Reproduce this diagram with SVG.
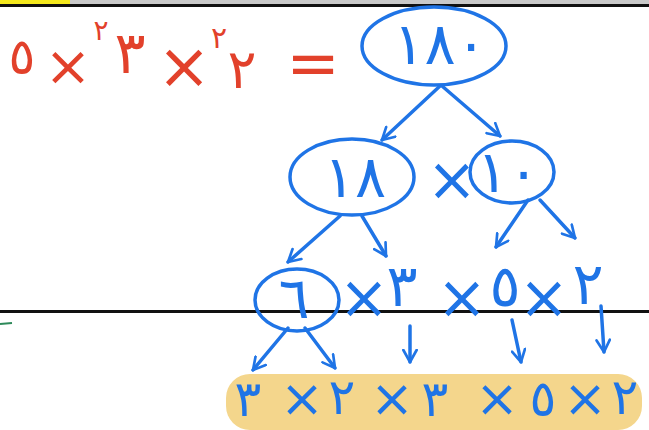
<svg xmlns="http://www.w3.org/2000/svg" width="649" height="430" viewBox="0 0 649 430">
<defs>
<marker id="ah" viewBox="0 0 12 12" refX="10" refY="6" markerWidth="16" markerHeight="16" markerUnits="userSpaceOnUse" orient="auto">
<path d="M1,1 L10,6 L1,11" fill="none" stroke="#1f74e6" stroke-width="2" stroke-linecap="round" stroke-linejoin="round"/>
</marker>
<style>
.r{fill:#e2412b;font-family:"DejaVu Sans",sans-serif;font-size:58px;text-anchor:middle}
.rx{fill:#e2412b;font-family:"DejaVu Sans",sans-serif;font-size:64px;text-anchor:middle}
.rs{fill:#e2412b;font-family:"DejaVu Sans",sans-serif;font-size:30px;text-anchor:middle}
.b{fill:#1f74e6;font-family:"DejaVu Sans",sans-serif;font-size:58px;text-anchor:middle}
.bx{fill:#1f74e6;font-family:"DejaVu Sans",sans-serif;font-size:60px;text-anchor:middle}
.bb{fill:#1f74e6;font-family:"DejaVu Sans",sans-serif;font-size:50px;text-anchor:middle}
.bbx{fill:#1f74e6;font-family:"DejaVu Sans",sans-serif;font-size:52px;text-anchor:middle}
.ring{fill:none;stroke:#1f74e6;stroke-width:3.5}
.c{fill:none;stroke:#1f74e6;stroke-width:3.5;stroke-linecap:round;marker-end:url(#ah)}
</style>
</defs>
<rect width="649" height="430" fill="#ffffff"/>
<rect x="0" y="0" width="649" height="4" fill="#c9c9c9"/>
<rect x="0" y="0" width="70" height="4" fill="#f4e81c"/>
<rect x="0" y="4" width="649" height="3" fill="#111111"/>
<rect x="0" y="310" width="649" height="3" fill="#111111"/>
<path d="M0,324 L12,323" stroke="#2e8a5a" stroke-width="2"/>

<g id="equation">
<text class="r" x="22" y="74" style="font-size:50px">٥</text>
<text class="rx" x="68" y="85" style="font-size:56px">×</text>
<text class="rs" x="101" y="40" style="font-size:28px">٢</text>
<text class="r" x="130" y="73">٣</text>
<text class="rx" x="184" y="88">×</text>
<text class="rs" x="219" y="48">٢</text>
<text class="r" x="242" y="88" style="font-size:54px">٢</text>
<text class="rx" x="313" y="85">=</text>
</g>

<rect id="highlight" x="226" y="374" width="416" height="56" rx="24" fill="#f4d68c"/>

<g id="n180">
<ellipse class="ring" cx="434" cy="46" rx="72" ry="39"/>
<text class="b" x="440" y="64">١٨٠</text>
</g>
<g id="n18">
<ellipse class="ring" cx="352" cy="177" rx="62" ry="38"/>
<text class="b" x="355" y="197">١٨</text>
</g>
<text class="bx" x="452" y="200">×</text>
<g id="n10">
<ellipse class="ring" cx="512" cy="172" rx="42" ry="31"/>
<text class="b" x="508" y="192">١٠</text>
</g>
<g id="n6">
<ellipse class="ring" cx="297" cy="300" rx="42" ry="31"/>
<text class="b" x="294" y="318">٦</text>
</g>
<g id="row3">
<text class="bx" x="364" y="318">×</text>
<text class="b" x="402" y="306">٣</text>
<text class="bx" x="462" y="318">×</text>
<text class="b" x="505" y="306">٥</text>
<text class="bx" x="544" y="318">×</text>
<text class="b" x="588" y="304">٢</text>
</g>
<g id="result">
<text class="bb" x="248" y="416">٣</text>
<text class="bbx" x="302" y="416">×</text>
<text class="bb" x="342" y="414">٢</text>
<text class="bbx" x="392" y="416">×</text>
<text class="bb" x="435" y="416">٣</text>
<text class="bbx" x="497" y="416">×</text>
<text class="bb" x="543" y="416">٥</text>
<text class="bbx" x="585" y="416">×</text>
<text class="bb" x="625" y="414">٢</text>
</g>

<g id="connectors">
<path class="c" d="M440,86 L382,140"/>
<path class="c" d="M442,86 L500,136"/>
<path class="c" d="M340,216 L288,262"/>
<path class="c" d="M362,216 L386,256"/>
<path class="c" d="M528,200 L496,247"/>
<path class="c" d="M540,200 L575,238"/>
<path class="c" d="M288,328 L253,370"/>
<path class="c" d="M305,328 L335,368"/>
<path class="c" d="M410,326 L410,362"/>
<path class="c" d="M512,320 L521,362"/>
<path class="c" d="M601,306 L604,352"/>
</g>
</svg>
